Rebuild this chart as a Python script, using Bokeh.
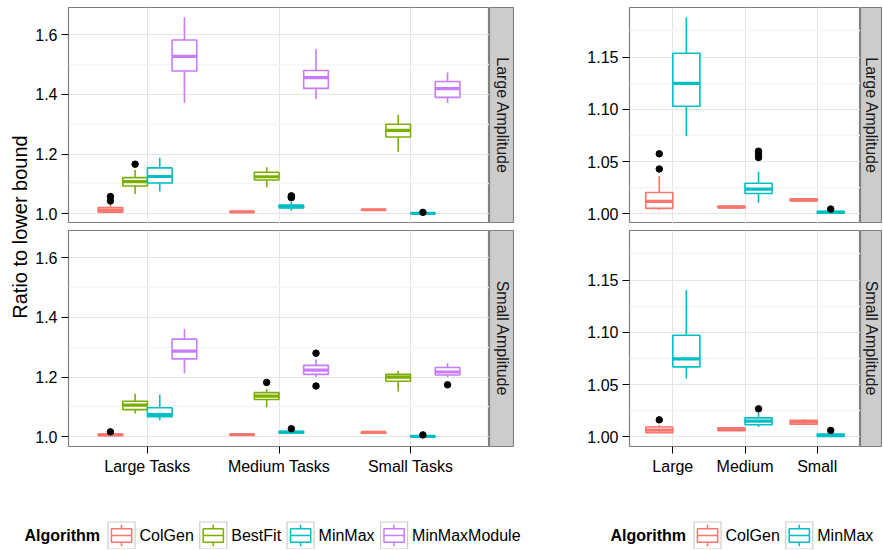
import math
from bokeh.plotting import figure
from bokeh.layouts import row, column
from bokeh.models import FixedTicker, PrintfTickFormatter, Range1d
from bokeh.core.properties import value
from bokeh.embed import file_html
from bokeh.resources import INLINE

# ---------------- data ----------------
AMPLITUDES = ["Large Amplitude", "Small Amplitude"]
TASKS_LEFT = ["Large Tasks", "Medium Tasks", "Small Tasks"]
TASKS_RIGHT = ["Large", "Medium", "Small"]
ALGORITHMS = ["ColGen", "BestFit", "MinMax", "MinMaxModule"]
ALGORITHMS_RIGHT = ["ColGen", "MinMax"]
Y_TICKS_LEFT = [1.0, 1.2, 1.4, 1.6]
Y_TICKS_RIGHT = [1.00, 1.05, 1.10, 1.15]
Y_TITLE = "Ratio to lower bound"
LEGEND_TITLE = "Algorithm"

# box statistics per task: [lower whisker, Q1, median, Q3, upper whisker]
LA_COLGEN = [[1.0040, 1.0054, 1.0120, 1.0206, 1.0364],
             [1.0055, 1.0060, 1.0065, 1.0075, 1.0078],
             [1.0120, 1.0125, 1.0135, 1.0145, 1.0150]]
LA_BESTFIT = [[1.066, 1.093, 1.108, 1.121, 1.147],
              [1.089, 1.113, 1.124, 1.139, 1.156],
              [1.208, 1.257, 1.279, 1.300, 1.332]]
LA_MINMAX = [[1.0746, 1.1030, 1.1248, 1.1536, 1.1880],
             [1.0107, 1.0196, 1.0237, 1.0294, 1.0404],
             [1.0003, 1.0008, 1.0016, 1.0025, 1.0030]]
LA_MINMAXMODULE = [[1.372, 1.478, 1.527, 1.582, 1.658],
                   [1.384, 1.420, 1.456, 1.480, 1.552],
                   [1.371, 1.390, 1.419, 1.443, 1.473]]
SA_COLGEN = [[1.0035, 1.0041, 1.0066, 1.0095, 1.0114],
             [1.0058, 1.0060, 1.0075, 1.0088, 1.0090],
             [1.0114, 1.0123, 1.0145, 1.0160, 1.0167]]
SA_BESTFIT = [[1.078, 1.091, 1.106, 1.119, 1.144],
              [1.099, 1.125, 1.136, 1.148, 1.160],
              [1.152, 1.186, 1.200, 1.209, 1.220]]
SA_MINMAX = [[1.0556, 1.0670, 1.0746, 1.0973, 1.1406],
             [1.0095, 1.0117, 1.0152, 1.0183, 1.0234],
             [1.0003, 1.0006, 1.0016, 1.0028, 1.0032]]
SA_MINMAXMODULE = [[1.213, 1.261, 1.287, 1.327, 1.361],
                   [1.200, 1.209, 1.223, 1.239, 1.260],
                   [1.200, 1.207, 1.217, 1.232, 1.246]]

# outliers per task
LA_COLGEN_OUT = [[1.043, 1.0575], [], []]
LA_BESTFIT_OUT = [[1.166], [], []]
LA_MINMAX_OUT = [[], [1.054, 1.057, 1.060], [1.0047]]
LA_MINMAXMODULE_OUT = [[], [], []]
SA_COLGEN_OUT = [[1.0164], [], []]
SA_BESTFIT_OUT = [[], [1.182], []]
SA_MINMAX_OUT = [[], [1.0269], [1.0063]]
SA_MINMAXMODULE_OUT = [[], [1.28, 1.17], [1.174]]

COLORS = {"ColGen": "#F8766D", "BestFit": "#7CAE00",
          "MinMax": "#00BFC4", "MinMaxModule": "#C77CFF"}

STATS = {
    "Large Amplitude": {"ColGen": LA_COLGEN, "BestFit": LA_BESTFIT,
                        "MinMax": LA_MINMAX, "MinMaxModule": LA_MINMAXMODULE},
    "Small Amplitude": {"ColGen": SA_COLGEN, "BestFit": SA_BESTFIT,
                        "MinMax": SA_MINMAX, "MinMaxModule": SA_MINMAXMODULE},
}
OUTS = {
    "Large Amplitude": {"ColGen": LA_COLGEN_OUT, "BestFit": LA_BESTFIT_OUT,
                        "MinMax": LA_MINMAX_OUT, "MinMaxModule": LA_MINMAXMODULE_OUT},
    "Small Amplitude": {"ColGen": SA_COLGEN_OUT, "BestFit": SA_BESTFIT_OUT,
                        "MinMax": SA_MINMAX_OUT, "MinMaxModule": SA_MINMAXMODULE_OUT},
}

# ---------------- styling ----------------
FONT = "Liberation Sans"
SMALL = "16px"
SMALL_PX = 16
TITLE_SIZE = "20px"
BORDER = "#7F7F7F"
STRIP_FILL = "#CCCCCC"


def y_range_for(algos):
    vals = []
    for amp in AMPLITUDES:
        for a in algos:
            for s in STATS[amp][a]:
                vals.extend(s)
            for o in OUTS[amp][a]:
                vals.extend(o)
    lo, hi = min(vals), max(vals)
    pad = (hi - lo) * 0.05
    return lo - pad, hi + pad


def panel(width, height, mb_left, mb_top, mb_bottom, yr, yticks, yfmt, labels):
    p = figure(width=width, height=height, x_range=Range1d(0.4, 3.6),
               y_range=Range1d(*yr), output_backend="svg", toolbar_location=None,
               title=None, x_axis_location="below" if labels else None,
               min_border_left=mb_left, min_border_right=0,
               min_border_top=mb_top, min_border_bottom=mb_bottom)
    p.background_fill_color = "white"
    p.border_fill_color = "white"
    p.outline_line_color = BORDER
    p.outline_line_width = 1.2
    step = yticks[1] - yticks[0]
    minors = [t - step / 2 for t in yticks] + [yticks[-1] + step / 2]
    p.yaxis.ticker = FixedTicker(ticks=yticks, minor_ticks=minors)
    p.yaxis.formatter = PrintfTickFormatter(format=yfmt)
    xt = FixedTicker(ticks=[1, 2, 3])
    p.xgrid.ticker = xt
    if labels:
        p.xaxis.ticker = xt
        p.xaxis.major_label_overrides = {i + 1: lab for i, lab in enumerate(labels)}
    for ax in p.axis:
        ax.axis_line_color = None
        ax.major_tick_line_color = "black"
        ax.major_tick_in = 0
        ax.major_tick_out = 7
        ax.minor_tick_line_color = None
        ax.major_label_standoff = 4
        ax.major_label_text_font = FONT
        ax.major_label_text_font_size = SMALL
        ax.major_label_text_color = "black"
    p.grid.grid_line_color = "#E5E5E5"
    p.grid.grid_line_width = 1
    p.ygrid.minor_grid_line_color = "#F4F4F4"
    p.ygrid.minor_grid_line_width = 1.5
    return p


def draw_boxes(p, amp, algos):
    k = len(algos)
    slot = 0.75 / k
    for i, a in enumerate(algos):
        c = COLORS[a]
        stats = STATS[amp][a]
        xs = [t + 1 + (i - (k - 1) / 2) * slot for t in range(len(stats))]
        lo = [s[0] for s in stats]
        q1 = [s[1] for s in stats]
        md = [s[2] for s in stats]
        q3 = [s[3] for s in stats]
        hi = [s[4] for s in stats]
        p.segment(x0=xs, y0=lo, x1=xs, y1=q1, line_color=c, line_width=1.6)
        p.segment(x0=xs, y0=q3, x1=xs, y1=hi, line_color=c, line_width=1.6)
        p.quad(left=[x - slot / 2 for x in xs], right=[x + slot / 2 for x in xs],
               bottom=q1, top=q3, fill_color="white", line_color=c, line_width=1.6)
        p.segment(x0=[x - slot / 2 for x in xs], y0=md,
                  x1=[x + slot / 2 for x in xs], y1=md, line_color=c, line_width=3.2)
        ox, oy = [], []
        for x, outs in zip(xs, OUTS[amp][a]):
            for o in outs:
                ox.append(x)
                oy.append(o)
        if ox:
            p.scatter(ox, oy, size=6.5, color="black")


def strip(width, height, mb_top, mb_bottom, text):
    s = figure(width=width, height=height, x_range=Range1d(0, 1), y_range=Range1d(0, 1),
               output_backend="svg", toolbar_location=None, title=None,
               x_axis_location=None, y_axis_location=None,
               min_border_left=0, min_border_right=0,
               min_border_top=mb_top, min_border_bottom=mb_bottom)
    s.background_fill_color = STRIP_FILL
    s.border_fill_color = "white"
    s.outline_line_color = BORDER
    s.outline_line_width = 1.2
    s.grid.visible = False
    s.text(x=[0.5], y=[0.5], text=[text], angle=-math.pi / 2,
           text_align="center", text_baseline="middle",
           text_font=value(FONT), text_font_size=SMALL, text_color="#1A1A1A")
    return s


REG_W = {'A': 667, 'B': 667, 'C': 722, 'F': 611, 'G': 778, 'M': 833, 'a': 556,
         'd': 556, 'e': 556, 'g': 556, 'i': 222, 'l': 222, 'n': 556, 'o': 556,
         's': 500, 't': 278, 'u': 556, 'x': 500, 'r': 333, 'h': 556, 'm': 833}
BOLD_W = {'A': 722, 'l': 278, 'g': 611, 'o': 611, 'r': 389, 'i': 278, 't': 333,
          'h': 611, 'm': 889}


def text_width(s, px, bold=False):
    tab = BOLD_W if bold else REG_W
    return sum(tab.get(ch, 556) for ch in s) * px / 1000.0


def legend_fig(width, height, algos, start_x):
    f = figure(width=width, height=height, x_range=Range1d(0, width),
               y_range=Range1d(0, height), output_backend="svg",
               toolbar_location=None, title=None,
               x_axis_location=None, y_axis_location=None,
               min_border_left=0, min_border_right=0,
               min_border_top=0, min_border_bottom=0)
    f.outline_line_color = None
    f.grid.visible = False
    key = 27
    cy = 14
    x = start_x
    f.text(x=[x], y=[cy], text=[LEGEND_TITLE], text_align="left",
           text_baseline="middle", text_font=value(FONT), text_font_size=SMALL,
           text_font_style="bold", text_color="black")
    x += text_width(LEGEND_TITLE, SMALL_PX, True) + 8
    for a in algos:
        c = COLORS[a]
        f.rect(x=[x + key / 2], y=[cy], width=key, height=key,
               fill_color="white", line_color="#CCCCCC", line_width=1.2)
        f.segment(x0=[x + key / 2, x + key / 2], y0=[cy - 0.4 * key, cy + 0.25 * key],
                  x1=[x + key / 2, x + key / 2], y1=[cy - 0.25 * key, cy + 0.4 * key],
                  line_color=c, line_width=1.5)
        f.quad(left=[x + 0.125 * key], right=[x + 0.875 * key],
               bottom=[cy - 0.25 * key], top=[cy + 0.25 * key],
               fill_color="white", line_color=c, line_width=1.5)
        f.segment(x0=[x + 0.125 * key], y0=[cy], x1=[x + 0.875 * key], y1=[cy],
                  line_color=c, line_width=1.5)
        f.text(x=[x + key + 4.5], y=[cy], text=[a], text_align="left",
               text_baseline="middle", text_font=value(FONT), text_font_size=SMALL,
               text_color="black")
        x += key + 4.5 + text_width(a, SMALL_PX) + 6
    return f


# ---------------- build ----------------
FRAME_H = 216
TOP_MB = 7
GAP = 7
AX_B = 35
TOP_H = TOP_MB + FRAME_H
BOT_H = GAP + FRAME_H + AX_B
LEG_H = 68

YT_W = 30
LEFT_W = 459
LSTRIP_W = 25
RIGHT_W = 346
RSTRIP_W = 22
TOTAL_W = YT_W + LEFT_W + LSTRIP_W + RIGHT_W + RSTRIP_W

yr_left = y_range_for(ALGORITHMS)
yr_right = y_range_for(ALGORITHMS_RIGHT)

LT = panel(LEFT_W, TOP_H, 38, TOP_MB, 0, yr_left, Y_TICKS_LEFT, "%.1f", None)
LB = panel(LEFT_W, BOT_H, 38, GAP, AX_B, yr_left, Y_TICKS_LEFT, "%.1f", TASKS_LEFT)
RT = panel(RIGHT_W, TOP_H, 115, TOP_MB, 0, yr_right, Y_TICKS_RIGHT, "%.2f", None)
RB = panel(RIGHT_W, BOT_H, 115, GAP, AX_B, yr_right, Y_TICKS_RIGHT, "%.2f", TASKS_RIGHT)

draw_boxes(LT, AMPLITUDES[0], ALGORITHMS)
draw_boxes(LB, AMPLITUDES[1], ALGORITHMS)
draw_boxes(RT, AMPLITUDES[0], ALGORITHMS_RIGHT)
draw_boxes(RB, AMPLITUDES[1], ALGORITHMS_RIGHT)

sLT = strip(LSTRIP_W, TOP_H, TOP_MB, 0, AMPLITUDES[0])
sLB = strip(LSTRIP_W, BOT_H, GAP, AX_B, AMPLITUDES[1])
sRT = strip(RSTRIP_W, TOP_H, TOP_MB, 0, AMPLITUDES[0])
sRB = strip(RSTRIP_W, BOT_H, GAP, AX_B, AMPLITUDES[1])

yt = figure(width=YT_W, height=TOP_H + BOT_H, x_range=Range1d(0, YT_W),
            y_range=Range1d(0, 1), output_backend="svg", toolbar_location=None,
            title=None, x_axis_location=None, y_axis_location=None,
            min_border_left=0, min_border_right=0, min_border_top=TOP_MB,
            min_border_bottom=AX_B)
yt.outline_line_color = None
yt.grid.visible = False
yt.text(x=[19], y=[0.5], text=[Y_TITLE], angle=math.pi / 2, text_align="center",
        text_baseline="middle", text_font=value(FONT), text_font_size=TITLE_SIZE,
        text_color="black")

legL_w = 565
legR_w = TOTAL_W - legL_w
legL = legend_fig(legL_w, LEG_H, ALGORITHMS, 24)
legR = legend_fig(legR_w, LEG_H, ALGORITHMS_RIGHT, 610 - legL_w)

left_block = row(yt, column(row(LT, sLT), row(LB, sLB)))
right_block = column(row(RT, sRT), row(RB, sRB))
layout = column(row(left_block, right_block), row(legL, legR))

open("out.html", "w").write(file_html(layout, INLINE))
